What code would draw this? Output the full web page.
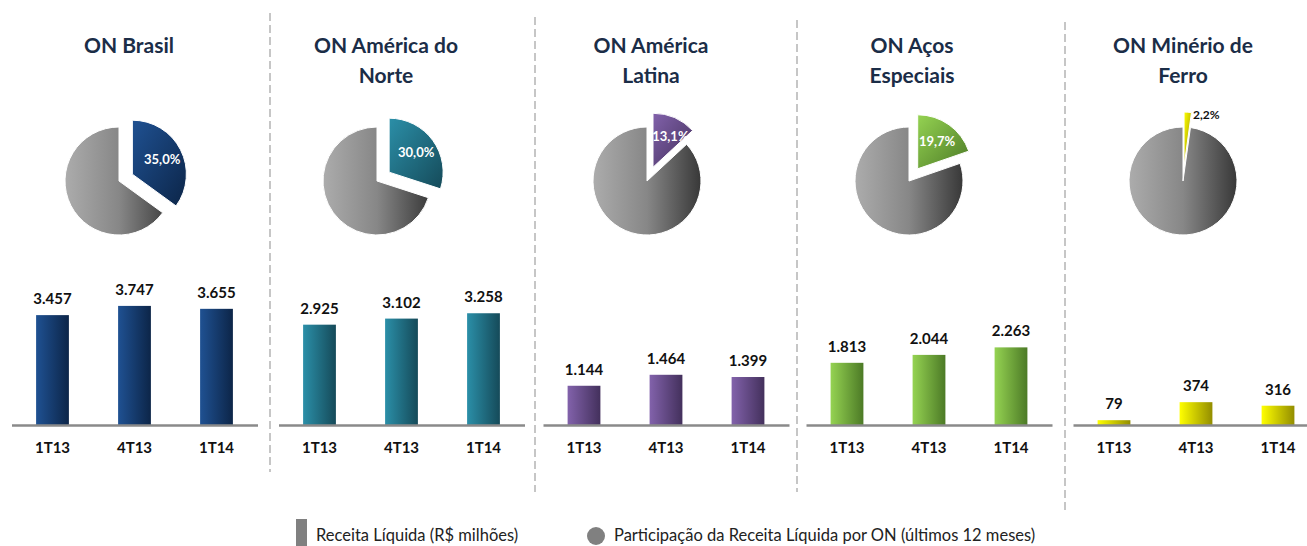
<!DOCTYPE html>
<html>
<head>
<meta charset="utf-8">
<script src="https://cdn.jsdelivr.net/npm/d3@7"></script>
<style>
  body { margin: 0; background: #fff; }
  text { font-family: Lato, "Open Sans", sans-serif; }
  .title { font-weight: bold; font-size: 21px; fill: #1b2d47; }
  .val { font-weight: bold; font-size: 15px; fill: #111; }
  .cat text { font-weight: bold; font-size: 15px; fill: #111; }
  .sep { stroke: #a8a8a8; stroke-width: 1.3; stroke-dasharray: 8 4; }
  .legend { font-size: 16.5px; fill: #222; white-space: pre; }
</style>
</head>
<body>
<div id="chart"></div>
<script>
"use strict";
// segment titles (broken in lines like the original slide)
var titles = [
  ["ON Brasil"],
  ["ON América do", "Norte"],
  ["ON América", "Latina"],
  ["ON Aços", "Especiais"],
  ["ON Minério de", "Ferro"]
];
var quarters = ["1T13", "4T13", "1T14"];

// net revenue, R$ million
var revBrasil = [3457, 3747, 3655];
var revAmNorte = [2925, 3102, 3258];
var revAmLatina = [1144, 1464, 1399];
var revAcos = [1813, 2044, 2263];
var revMinerio = [79, 374, 316];
var revenue = [revBrasil, revAmNorte, revAmLatina, revAcos, revMinerio];

// share of net revenue, last 12 months (%)
var share = [35.0, 30.0, 13.1, 19.7, 2.2];

// each excel chart had its own axis maximum
var yMax = [4090, 3790, 3790, 3790, 2130];

var legendLabels = [
  "Receita Líquida  (R$ milhões)",
  "Participação da Receita Líquida por ON (últimos 12 meses)"
];

//light / dark end of each segment colour
var colors = [
  ["#1f5192", "#0c2548"],
  ["#2b8fa8", "#154a59"],
  ["#8262ab", "#43305c"],
  ["#95d352", "#4c7a26"],
  ["#ffff00", "#938d00"]
];

var w = 1307,
  h = 546;

// layout of each panel
var panelCx = [134.5, 401.5, 666, 929, 1196];
var titleCx = [129, 386, 651, 912, 1183];
var pieCx = [119, 377, 647, 909, 1183];
var pieCy = 181,
  rad = 54,
  explode = 15,
  baseY = 425,
  barH = 130,
  halfW = 123;
var separators = [
  { x: 270, y1: 13, y2: 472 },
  { x: 535, y1: 17, y2: 492 },
  { x: 797, y1: 20, y2: 492 },
  { x: 1065, y1: 22, y2: 512 }
];

var br = d3.formatLocale({
  decimal: ",",
  thousands: ".",
  grouping: [3],
  currency: ["R$", ""]
});
var fmtInt = br.format(",d"),
  fmtPct = br.format(".1f");

var svg = d3
  .select("#chart")
  .append("svg")
  .attr("width", w)
  .attr("height", h);

var defs = svg.append("defs");

var gray = defs
  .append("linearGradient")
  .attr("id", "grayGrad")
  .attr("gradientUnits", "userSpaceOnUse")
  .attr("x1", -rad)
  .attr("x2", rad)
  .attr("y1", 0)
  .attr("y2", 0);
gray.append("stop").attr("offset", 0).attr("stop-color", "#acacac");
gray.append("stop").attr("offset", 0.5).attr("stop-color", "#878787");
gray.append("stop").attr("offset", 1).attr("stop-color", "#383838");

colors.forEach(function(c, i) {
  var bg = defs
    .append("linearGradient")
    .attr("id", "bar" + i)
    .attr("x1", 0)
    .attr("x2", 1)
    .attr("y1", 0)
    .attr("y2", 0);
  bg.append("stop").attr("offset", 0).attr("stop-color", c[0]);
  bg.append("stop").attr("offset", 1).attr("stop-color", c[1]);

  var sg = defs
    .append("linearGradient")
    .attr("id", "slice" + i)
    .attr("x1", 0)
    .attr("x2", 1)
    .attr("y1", 0)
    .attr("y2", 1);
  sg.append("stop").attr("offset", 0).attr("stop-color", c[0]);
  sg.append("stop").attr("offset", 1).attr("stop-color", c[1]);
});

//dashed separators between the panels
svg
  .append("g")
  .selectAll("line")
  .data(separators)
  .join("line")
  .attr("class", "sep")
  .attr("x1", function(d) {
    return d.x;
  })
  .attr("x2", function(d) {
    return d.x;
  })
  .attr("y1", function(d) {
    return d.y1;
  })
  .attr("y2", function(d) {
    return d.y2;
  });

var pie = d3
  .pie()
  .sort(null)
  .value(function(d) {
    return d;
  });
var arc = d3
  .arc()
  .innerRadius(0)
  .outerRadius(rad);

revenue.forEach(function(vals, i) {
  var g = svg.append("g");

  //title
  g.append("text")
    .attr("class", "title")
    .attr("text-anchor", "middle")
    .selectAll("tspan")
    .data(titles[i])
    .join("tspan")
    .attr("x", titleCx[i])
    .attr("y", function(d, j) {
      return 53 + j * 30;
    })
    .text(function(d) {
      return d;
    });

  //pie: segment slice pulled out of the rest
  var slices = pie([share[i], 100 - share[i]]);
  var pg = g
    .append("g")
    .attr("transform", "translate(" + pieCx[i] + "," + pieCy + ")");

  pg.append("path")
    .attr("d", arc(slices[1]))
    .attr("fill", "url(#grayGrad)")
    .attr("stroke", "#fff")
    .attr("stroke-width", 1);

  var s = slices[0],
    mid = (s.startAngle + s.endAngle) / 2,
    ox = Math.sin(mid) * explode,
    oy = -Math.cos(mid) * explode;

  var sg = pg.append("g").attr("transform", "translate(" + ox + "," + oy + ")");
  sg.append("path")
    .attr("d", arc(s))
    .attr("fill", "url(#slice" + i + ")")
    .attr("stroke", "#fff")
    .attr("stroke-width", 1);

  if (share[i] > 5) {
    var lr = rad * 0.62;
    sg.append("text")
      .attr("x", Math.sin(mid) * lr + (share[i] < 15 ? 4 : 0))
      .attr("y", -Math.cos(mid) * lr)
      .attr("dy", "0.35em")
      .attr("text-anchor", "middle")
      .style("font-weight", "bold")
      .style("font-size", "13px")
      .style("fill", "#fff")
      .text(fmtPct(share[i]) + "%");
  } else {
    sg.append("text")
      .attr("x", 9)
      .attr("y", -rad + 7)
      .attr("text-anchor", "start")
      .style("font-weight", "bold")
      .style("font-size", "12px")
      .style("fill", "#111")
      .text(fmtPct(share[i]) + "%");
  }

  //bars
  var x = d3
    .scaleBand()
    .domain(quarters)
    .range([panelCx[i] - halfW, panelCx[i] + halfW])
    .paddingInner(0.6)
    .paddingOuter(0.3);
  var y = d3
    .scaleLinear()
    .domain([0, yMax[i]])
    .range([baseY, baseY - barH]);

  g.append("g")
    .selectAll("rect")
    .data(vals)
    .join("rect")
    .attr("x", function(d, j) {
      return x(quarters[j]);
    })
    .attr("y", function(d) {
      return y(d);
    })
    .attr("width", x.bandwidth())
    .attr("height", function(d) {
      return baseY - y(d);
    })
    .attr("fill", "url(#bar" + i + ")");

  g.append("g")
    .selectAll("text")
    .data(vals)
    .join("text")
    .attr("class", "val")
    .attr("text-anchor", "middle")
    .attr("x", function(d, j) {
      return x(quarters[j]) + x.bandwidth() / 2;
    })
    .attr("y", function(d) {
      return y(d) - 11;
    })
    .text(function(d) {
      return fmtInt(d);
    });

  var ax = g
    .append("g")
    .attr("class", "cat")
    .attr("transform", "translate(0," + baseY + ")")
    .call(
      d3
        .axisBottom(x)
        .tickSize(0)
        .tickSizeOuter(0)
    );
  ax.select(".domain")
    .attr("stroke", "#8a8a8a")
    .attr("stroke-width", 2.5);
  ax.selectAll("text")
    .attr("y", 28)
    .attr("dy", null)
    .attr("font-family", null)
    .attr("font-size", null);
});

//legend, sits on the bottom edge like the slide
var lg = svg.append("g").attr("class", "legend");
lg.append("rect")
  .attr("x", 296)
  .attr("y", 519)
  .attr("width", 11)
  .attr("height", 27)
  .attr("fill", "#808080");
lg.append("text")
  .attr("x", 316)
  .attr("y", 541)
  .text(legendLabels[0]);
lg.append("circle")
  .attr("cx", 596)
  .attr("cy", 536)
  .attr("r", 9)
  .attr("fill", "#808080");
lg.append("text")
  .attr("x", 614)
  .attr("y", 541)
  .text(legendLabels[1]);
</script>
</body>
</html>
